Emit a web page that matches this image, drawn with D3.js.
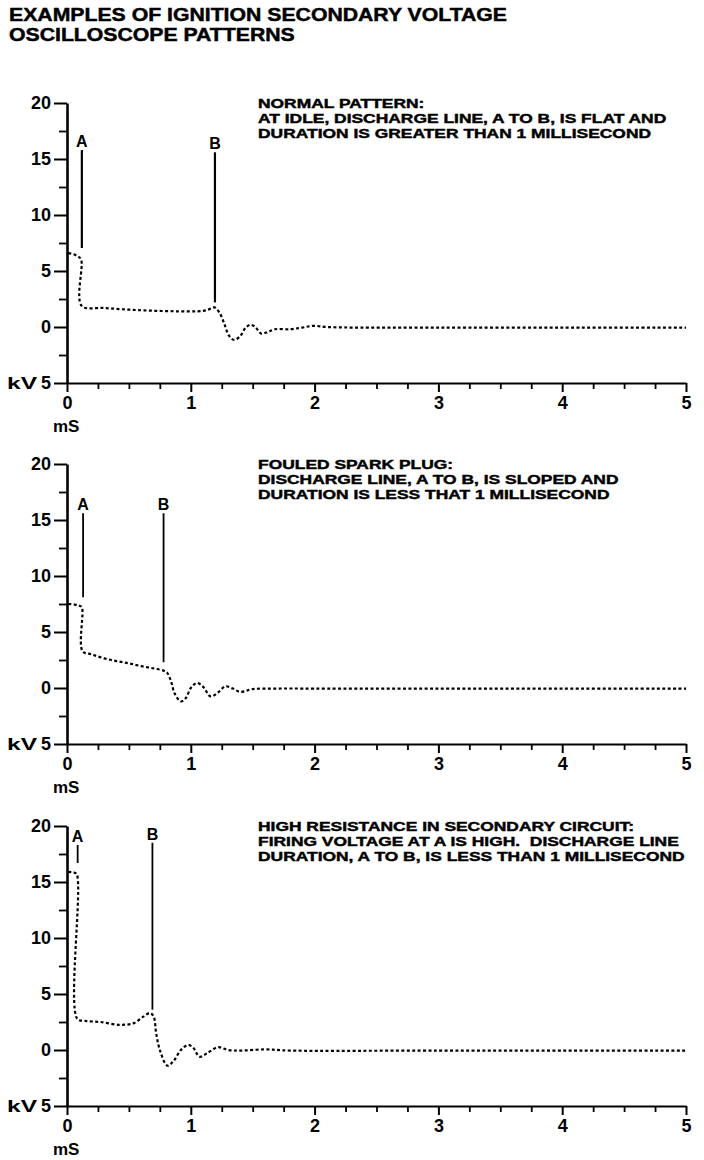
<!DOCTYPE html>
<html>
<head>
<meta charset="utf-8">
<script src="https://cdn.jsdelivr.net/npm/d3@7"></script>
<style>
  html, body { margin: 0; padding: 0; background: #fff; }
  svg { display: block; }
  text { font-family: "Liberation Sans", Arial, sans-serif; font-weight: bold; fill: #000; white-space: pre; }
  .heavy { stroke: #000; stroke-width: 0.45; }
</style>
</head>
<body>
<svg id="chart" width="704" height="1160"></svg>
<script>
// ---------- data ----------
const titleLines = ["EXAMPLES OF IGNITION SECONDARY VOLTAGE", "OSCILLOSCOPE PATTERNS"];

const xMajorTicks = [0, 1, 2, 3, 4, 5];
const xMinorTicks = [0.25, 0.5, 0.75, 1.25, 1.5, 1.75, 2.25, 2.5, 2.75, 3.25, 3.5, 3.75, 4.25, 4.5, 4.75];
const yMajorTicks = [-5, 0, 5, 10, 15, 20];
const yMinorTicks = [-2.5, 2.5, 7.5, 12.5, 17.5];
const xUnit = "mS";
const yUnit = "kV";

const normalNotes = ["NORMAL PATTERN:", "AT IDLE, DISCHARGE LINE, A TO B, IS FLAT AND", "DURATION IS GREATER THAN 1 MILLISECOND"];
const fouledNotes = ["FOULED SPARK PLUG:", "DISCHARGE LINE, A TO B, IS SLOPED AND", "DURATION IS LESS THAT 1 MILLISECOND"];
const resistNotes = ["HIGH RESISTANCE IN SECONDARY CIRCUIT:", "FIRING VOLTAGE AT A IS HIGH.  DISCHARGE LINE", "DURATION, A TO B, IS LESS THAN 1 MILLISECOND"];

// waveform: time (ms) and voltage (kV)
const normalTime = [0.01, 0.05, 0.09, 0.115, 0.118, 0.3, 0.5, 0.7, 0.9, 1.05, 1.13, 1.19, 1.23, 1.27, 1.31, 1.35, 1.4, 1.44, 1.48, 1.52, 1.57, 1.62, 1.68, 1.8, 1.9, 1.99, 2.1, 2.3, 3.0, 4.0, 5.0];
const normalKV   = [6.6, 6.5, 6.3, 6.0, 1.9, 1.7, 1.55, 1.45, 1.4, 1.4, 1.5, 1.75, 1.3, 0.3, -0.8, -1.15, -0.8, -0.1, 0.2, 0.0, -0.6, -0.45, -0.2, -0.2, -0.05, 0.1, 0.0, -0.05, -0.05, -0.05, -0.05];

const fouledTime = [0.01, 0.06, 0.1, 0.12, 0.125, 0.2, 0.3, 0.4, 0.5, 0.6, 0.7, 0.78, 0.81, 0.84, 0.87, 0.92, 0.96, 1.0, 1.05, 1.1, 1.16, 1.22, 1.28, 1.34, 1.4, 1.5, 1.7, 2.0, 3.0, 4.0, 5.0];
const fouledKV   = [7.5, 7.45, 7.35, 7.2, 3.3, 3.0, 2.65, 2.4, 2.2, 1.95, 1.75, 1.55, 1.35, 0.6, -0.5, -1.2, -0.9, 0.0, 0.45, 0.1, -0.75, -0.4, 0.15, -0.05, -0.35, -0.1, -0.05, -0.05, -0.05, -0.05, -0.05];

const resistTime = [0.01, 0.05, 0.078, 0.082, 0.15, 0.27, 0.43, 0.54, 0.62, 0.67, 0.70, 0.72, 0.75, 0.81, 0.86, 0.92, 0.98, 1.02, 1.07, 1.13, 1.22, 1.3, 1.4, 1.6, 1.8, 3.0, 4.0, 5.0];
const resistKV   = [15.9, 15.85, 15.7, 2.8, 2.6, 2.5, 2.25, 2.4, 3.0, 3.3, 3.0, 1.5, 0.0, -1.4, -1.0, 0.0, 0.45, 0.2, -0.6, -0.3, 0.25, 0.0, -0.05, 0.05, -0.05, -0.05, -0.05, -0.05];

// markers A and B: time, top kV, bottom kV
const markerNames = ["A", "B"];
const normalMarkTime = [0.12, 1.195];
const normalMarkTop = [15.8, 15.6];
const normalMarkBottom = [7.05, 2.2];
const fouledMarkTime = [0.13, 0.78];
const fouledMarkTop = [15.6, 15.6];
const fouledMarkBottom = [8.1, 2.3];
const resistMarkTime = [0.086, 0.69];
const resistMarkTop = [18.3, 18.5];
const resistMarkBottom = [16.7, 3.6];

const panelTops = [103, 464, 826];

// ---------- drawing ----------
const svg = d3.select("#chart");
svg.append("rect").attr("width", 704).attr("height", 1160).attr("fill", "#fff");

const title = svg.append("g").attr("transform", "translate(9,0) scale(1.18,1)");
titleLines.forEach((t, i) => {
  title.append("text").attr("class", "heavy").attr("x", 0).attr("y", 21 + i * 20).attr("font-size", 18).text(t);
});

const x = d3.scaleLinear().domain([0, 5]).range([67, 686]);

const panels = [
  {notes: normalNotes, t: normalTime, v: normalKV, mt: normalMarkTime, mTop: normalMarkTop, mBot: normalMarkBottom, mw: 2.2},
  {notes: fouledNotes, t: fouledTime, v: fouledKV, mt: fouledMarkTime, mTop: fouledMarkTop, mBot: fouledMarkBottom, mw: 1.8},
  {notes: resistNotes, t: resistTime, v: resistKV, mt: resistMarkTime, mTop: resistMarkTop, mBot: resistMarkBottom, mw: 1.8}
];

panels.forEach((p, pi) => {
  const top = panelTops[pi];
  const y = d3.scaleLinear().domain([-5, 20]).range([top + 280, top]);
  const g = svg.append("g");

  // minor y ticks
  g.append("g").attr("transform", `translate(${x(0)},0)`)
    .call(d3.axisLeft(y).tickValues(yMinorTicks).tickSize(8).tickSizeOuter(0).tickFormat(""))
    .call(a => a.select(".domain").remove())
    .call(a => a.selectAll("line").attr("stroke", "#000").attr("stroke-width", 1.8));

  // major y axis
  g.append("g").attr("transform", `translate(${x(0)},0)`)
    .call(d3.axisLeft(y).tickValues(yMajorTicks).tickSize(13).tickSizeOuter(0).tickPadding(3).tickFormat(d => Math.abs(d)))
    .call(a => a.select(".domain").attr("stroke", "#000").attr("stroke-width", 2.6))
    .call(a => a.selectAll("line").attr("stroke", "#000").attr("stroke-width", 2))
    .call(a => a.selectAll("text").attr("font-size", 18).attr("font-family", "Liberation Sans, Arial, sans-serif").attr("font-weight", "bold").attr("fill", "#000"));

  // minor x ticks
  g.append("g").attr("transform", `translate(0,${y(-5)})`)
    .call(d3.axisBottom(x).tickValues(xMinorTicks).tickSize(6).tickSizeOuter(0).tickFormat(""))
    .call(a => a.select(".domain").remove())
    .call(a => a.selectAll("line").attr("stroke", "#000").attr("stroke-width", 1.8));

  // major x axis
  g.append("g").attr("transform", `translate(0,${y(-5)})`)
    .call(d3.axisBottom(x).tickValues(xMajorTicks).tickSize(9).tickSizeOuter(0).tickPadding(4).tickFormat(d3.format("d")))
    .call(a => a.select(".domain").attr("stroke", "#000").attr("stroke-width", 2.2))
    .call(a => a.selectAll("line").attr("stroke", "#000").attr("stroke-width", 2))
    .call(a => a.selectAll("text").attr("font-size", 18).attr("font-family", "Liberation Sans, Arial, sans-serif").attr("font-weight", "bold").attr("fill", "#000"));

  // units
  g.append("text").attr("x", 7).attr("y", y(-5) + 6).attr("font-size", 17)
    .attr("textLength", 30).attr("lengthAdjust", "spacingAndGlyphs").text(yUnit);
  g.append("text").attr("x", 53).attr("y", y(-5) + 49).attr("font-size", 17).text(xUnit);

  // notes
  const ng = g.append("g").attr("transform", `translate(258,${top + 5}) scale(1.29,1)`);
  p.notes.forEach((t, i) => {
    ng.append("text").attr("class", "heavy").attr("x", 0).attr("y", i * 15).attr("font-size", 13.5).text(t);
  });

  // markers
  markerNames.forEach((nm, i) => {
    g.append("line")
      .attr("x1", x(p.mt[i])).attr("x2", x(p.mt[i]))
      .attr("y1", y(p.mTop[i])).attr("y2", y(p.mBot[i]))
      .attr("stroke", "#000").attr("stroke-width", p.mw);
    g.append("text").attr("x", x(p.mt[i])).attr("y", y(p.mTop[i]) - 3)
      .attr("text-anchor", "middle").attr("font-size", 16).text(nm);
  });

  // waveform
  const pts = p.t.map((t, i) => [t, p.v[i]]);
  const line = d3.line().x(d => x(d[0])).y(d => y(d[1])).curve(d3.curveCatmullRom.alpha(0.5));
  g.append("path").attr("d", line(pts)).attr("fill", "none")
    .attr("stroke", "#000").attr("stroke-width", 2.2).attr("stroke-dasharray", "3 2.4");
});
</script>
</body>
</html>
